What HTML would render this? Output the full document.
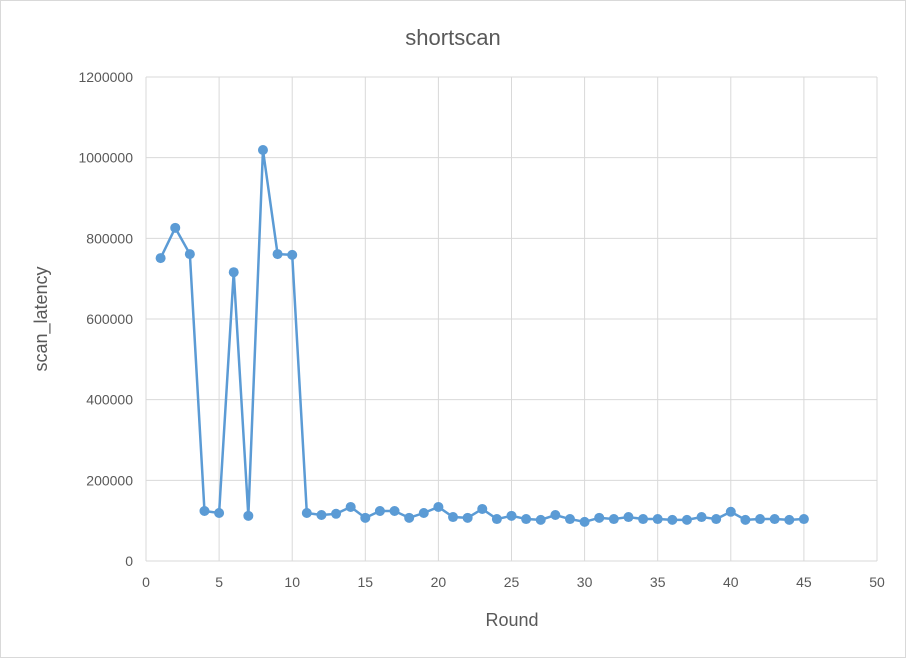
<!DOCTYPE html>
<html><head><meta charset="utf-8"><style>
body{margin:0;background:#fff;}
svg{display:block;font-family:"Liberation Sans",sans-serif;}
</style></head><body>
<svg id="c" width="906" height="658">
<rect x="0.5" y="0.5" width="905" height="657" fill="#fff" stroke="#d9d9d9"/>
<text x="453" y="45" font-size="22" fill="#595959" text-anchor="middle">shortscan</text>
<text x="512" y="626" font-size="18" fill="#595959" text-anchor="middle">Round</text>
<text transform="translate(47,319) rotate(-90)" font-size="18" fill="#595959" text-anchor="middle">scan_latency</text>
<g id="grid"></g><g id="series"></g>
</svg>
<script>
const rounds=[1,2,3,4,5,6,7,8,9,10,11,12,13,14,15,16,17,18,19,20,21,22,23,24,25,26,27,28,29,30,31,32,33,34,35,36,37,38,39,40,41,42,43,44,45];
const latency=[751000,826000,761000,124000,119000,716000,112000,1019000,761000,759000,119000,114000,117000,134000,107000,124000,124000,107000,119000,134000,109000,107000,129000,104000,112000,104000,102000,114000,104000,97000,107000,104000,109000,104000,104000,102000,102000,109000,104000,122000,102000,104000,104000,102000,104000];
const xTicks=[0,5,10,15,20,25,30,35,40,45,50];
const yTicks=[0,200000,400000,600000,800000,1000000,1200000];
const NS="http://www.w3.org/2000/svg";
const X=v=>146+v*(877-146)/50, Y=v=>561-v*(561-77)/1200000;
const g=document.getElementById('grid'), s=document.getElementById('series');
function mk(p,t,a){const e=document.createElementNS(NS,t);for(const k in a)e.setAttribute(k,a[k]);p.appendChild(e);return e;}
yTicks.forEach(v=>{
 const l=mk(g,'line',{x1:146,x2:877,y1:Y(v),y2:Y(v),stroke:'#d9d9d9'});
 
 
 const t=mk(g,'text',{x:133,y:Y(v)+5,'font-size':14,fill:'#595959','text-anchor':'end'});t.textContent=v;
 
 
});
xTicks.forEach(v=>{
 const l=mk(g,'line',{x1:X(v),x2:X(v),y1:77,y2:561,stroke:'#d9d9d9'});
 
 
 const t=mk(g,'text',{x:X(v),y:587,'font-size':14,fill:'#595959','text-anchor':'middle'});t.textContent=v;
 
 
});
const pl=mk(s,'polyline',{points:rounds.map((r,i)=>X(r)+','+Y(latency[i])).join(' '),fill:'none',stroke:'#5b9bd5','stroke-width':2.5});


rounds.forEach((r,i)=>{
 const c=mk(s,'circle',{cx:X(r),cy:Y(latency[i]),r:5,fill:'#5b9bd5'});
 
 
});
</script>
</body></html>
